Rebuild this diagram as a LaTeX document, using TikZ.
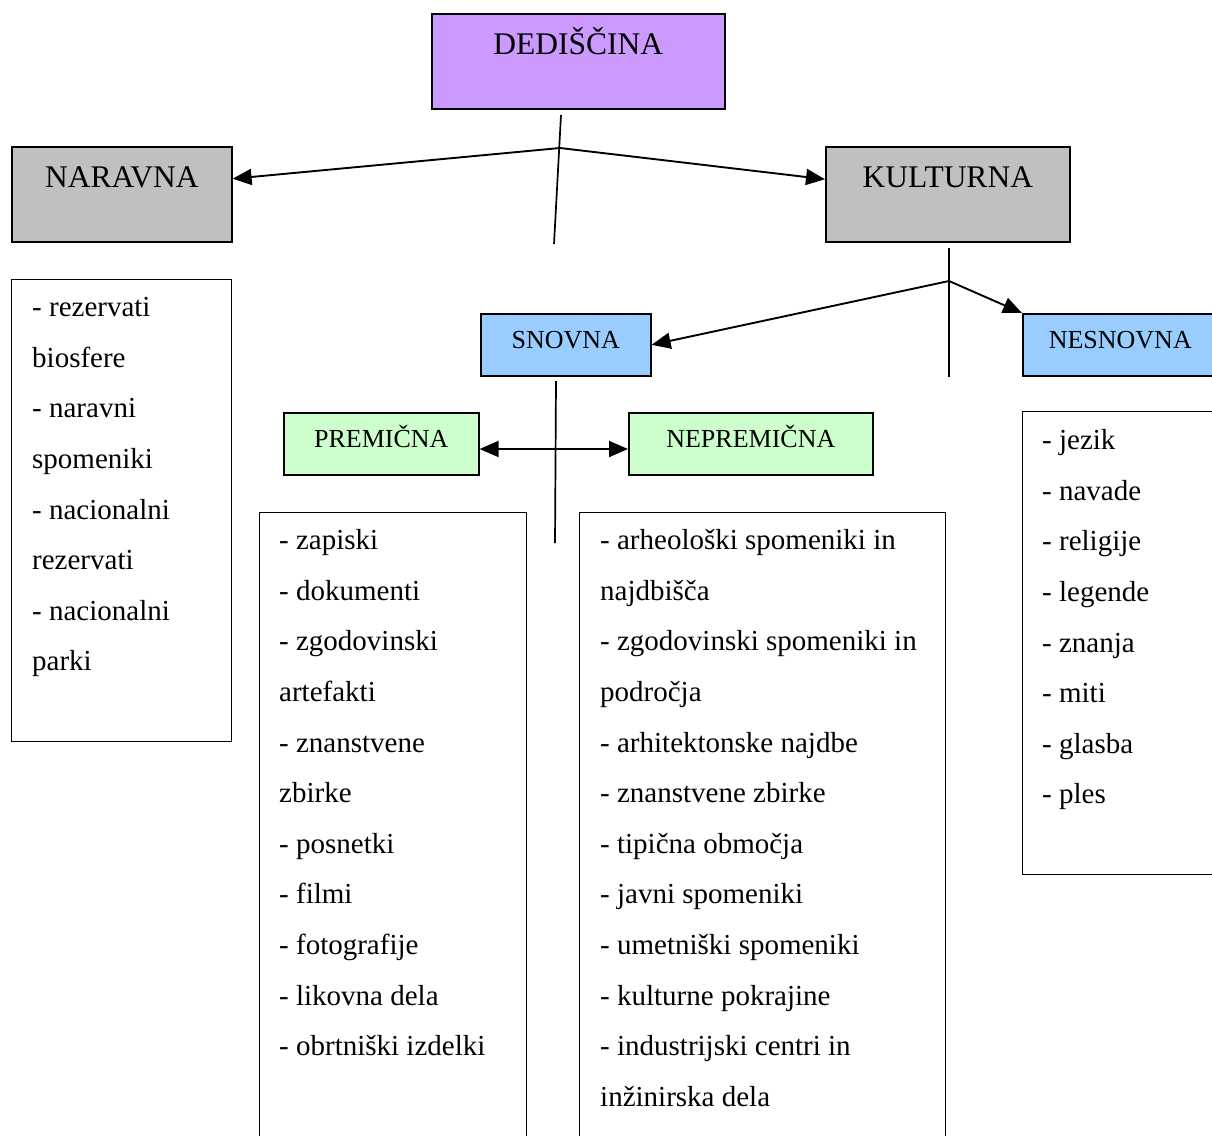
\documentclass[tikz,border=0pt]{standalone}
\usepackage{fontspec}
\setmainfont{Liberation Serif}
\usetikzlibrary{arrows.meta}

\definecolor{purplefill}{HTML}{CC99FF}
\definecolor{grayfill}{HTML}{C0C0C0}
\definecolor{bluefill}{HTML}{99CCFF}
\definecolor{greenfill}{HTML}{CCFFCC}

\begin{document}
\begin{tikzpicture}[
    % Define standard styles for the diagram components
    x=1pt, y=-1pt,
    titlenode/.style={
        rectangle,
        draw=black,
        line width=1.6pt,
        inner sep=0pt,
        anchor=north west,
        minimum height=95pt,
        text height=41pt,
        text depth=54pt,
        font=\fontsize{31.5}{38}\selectfont
    },
    subnode/.style={
        rectangle,
        draw=black,
        line width=1.6pt,
        inner sep=0pt,
        anchor=north west,
        minimum height=62pt,
        text height=35pt,
        text depth=27pt,
        font=\fontsize{26}{31}\selectfont
    },
    listbox/.style={
        rectangle,
        draw=black,
        line width=1.3pt,
        inner sep=0pt,
        anchor=north west
    },
    listtext/.style={
        align=left,
        inner sep=0pt,
        anchor=north west,
        font=\fontsize{29}{50.6}\selectfont
    },
    arrow/.style={
        -{Triangle[length=19pt, width=16pt]},
        line width=1.9pt,
        draw=black
    },
    stem/.style={
        line width=1.7pt,
        draw=black
    }
]

\useasboundingbox (0,0) rectangle (1212,1135);
\clip (0,0) rectangle (1212,1135);

% --- Nodes ---

% Top level
\node[titlenode, fill=purplefill, minimum width=293pt] (dediscina) at (431,13) {DEDIŠČINA};
\node[titlenode, fill=grayfill, minimum width=220pt] (naravna) at (11,146) {NARAVNA};
\node[titlenode, fill=grayfill, minimum width=244pt] (kulturna) at (825,146) {KULTURNA};

% Second and third level
\node[subnode, fill=bluefill, minimum width=170pt] (snovna) at (480,313) {SNOVNA};
\node[subnode, fill=bluefill, minimum width=195pt] (nesnovna) at (1022,313) {NESNOVNA};
\node[subnode, fill=greenfill, minimum width=195pt] (premicna) at (283,412) {PREMIČNA};
\node[subnode, fill=greenfill, minimum width=244pt] (nepremicna) at (628,412) {NEPREMIČNA};

% Lists
\node[listbox, minimum width=220pt, minimum height=462pt] (naravnalist) at (11,279) {};
\node[listtext] (naravnatext) at ([shift={(21,2)}]naravnalist.north west) {\strut- rezervati\\
    biosfere\\
    - naravni\\
    spomeniki\\
    - nacionalni\\
    rezervati\\
    - nacionalni\\
    parki};

\node[listbox, minimum width=267pt, minimum height=700pt] (premicnalist) at (259,512) {};
\node[listtext] (premicnatext) at ([shift={(20,2)}]premicnalist.north west) {\strut- zapiski\\
    - dokumenti\\
    - zgodovinski\\
    artefakti\\
    - znanstvene\\
    zbirke\\
    - posnetki\\
    - filmi\\
    - fotografije\\
    - likovna dela\\
    - obrtniški izdelki};

\node[listbox, minimum width=366pt, minimum height=700pt] (nepremicnalist) at (579,512) {};
\node[listtext] (nepremicnatext) at ([shift={(21,2)}]nepremicnalist.north west) {\strut- arheološki spomeniki in\\
    najdbišča\\
    - zgodovinski spomeniki in\\
    področja\\
    - arhitektonske najdbe\\
    - znanstvene zbirke\\
    - tipična območja\\
    - javni spomeniki\\
    - umetniški spomeniki\\
    - kulturne pokrajine\\
    - industrijski centri in\\
    inžinirska dela};

\node[listbox, minimum width=260pt, minimum height=463pt] (nesnovnalist) at (1022,411) {};
\node[listtext] (nesnovnatext) at ([shift={(20,3)}]nesnovnalist.north west) {\strut- jezik\\
    - navade\\
    - religije\\
    - legende\\
    - znanja\\
    - miti\\
    - glasba\\
    - ples};

% --- Connections ---
\coordinate (dtop) at (561,115);
\coordinate (dbot) at (554,244);
\coordinate (djoin) at (560,148);
\draw[stem] (dtop) -- (dbot);
\draw[arrow] (djoin) -- (naravna.8);
\draw[arrow] (djoin) -- (kulturna.173);

\coordinate (ktop) at (949,248);
\coordinate (kbot) at (949,377);
\coordinate (kjoin) at (949,281);
\draw[stem] (ktop) -- (kbot);
\draw[arrow] (kjoin) -- (snovna.east);
\draw[arrow] (kjoin) -- (nesnovna.north west);

\coordinate (stop) at (556,381);
\coordinate (sbot) at (555,543);
\coordinate (sjoin) at (556,449);
\draw[stem] (stop) -- (sbot);
\draw[arrow] (sjoin) -- (sjoin -| premicna.east);
\draw[arrow] (sjoin) -- (sjoin -| nepremicna.west);

\end{tikzpicture}
\end{document}
